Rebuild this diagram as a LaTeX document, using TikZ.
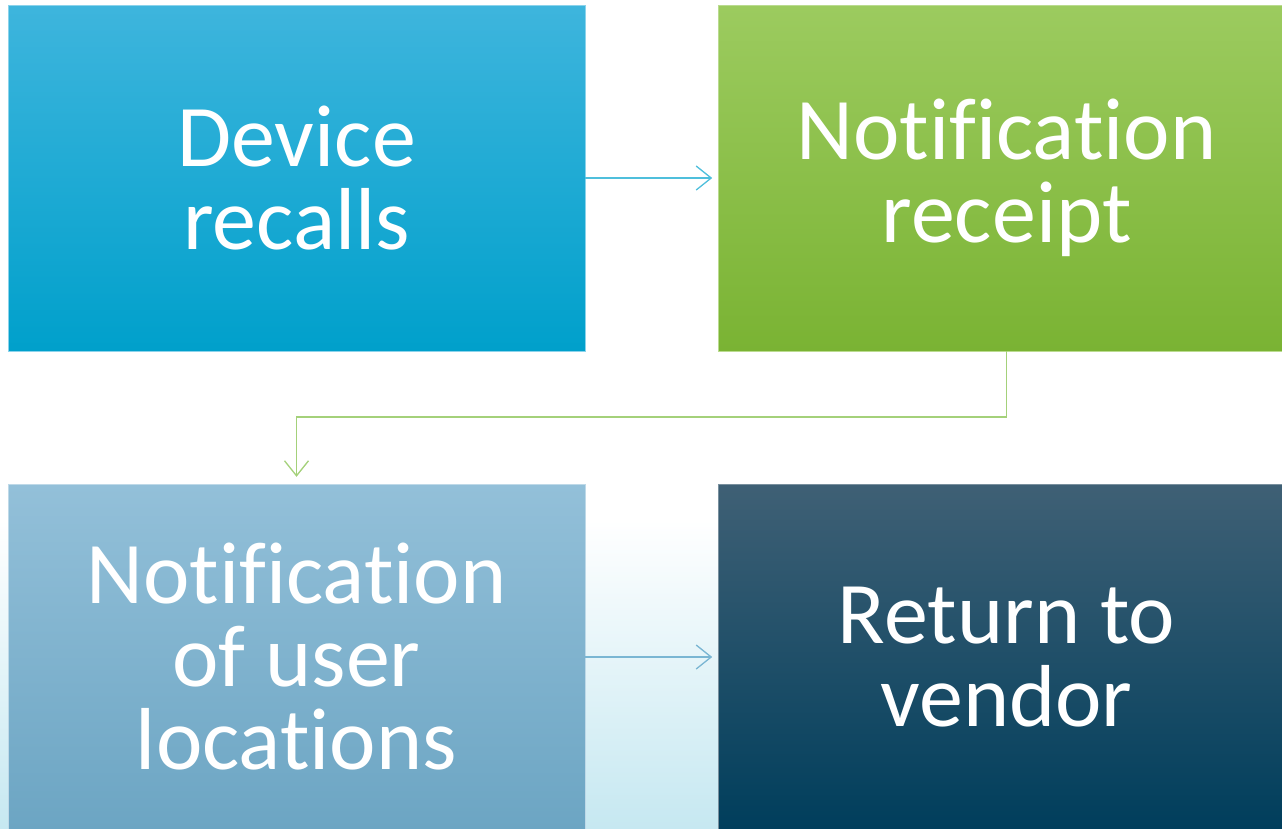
\documentclass[tikz,border=0pt]{standalone}
\usepackage{fontspec}
\setmainfont[Ligatures=CommonOff]{Carlito}
\usetikzlibrary{arrows.meta}

\definecolor{blueTop}{HTML}{3EB5DD}
\definecolor{blueBot}{HTML}{00A0CB}
\definecolor{greenTop}{HTML}{9CCB5F}
\definecolor{greenBot}{HTML}{7AB333}
\definecolor{paleTop}{HTML}{93C0D9}
\definecolor{paleBot}{HTML}{6CA5C3}
\definecolor{navyTop}{HTML}{3F6075}
\definecolor{navyBot}{HTML}{003E5C}
\definecolor{cyanBg}{HTML}{C6E8F1}
\definecolor{lineBlue}{HTML}{4FBFDC}
\definecolor{lineGreen}{HTML}{A4D17A}
\definecolor{linePale}{HTML}{7AB6D3}

\begin{document}
\begin{tikzpicture}[x=1pt, y=-1pt,
  stepbox/.style={minimum width=577pt, minimum height=346pt, inner sep=0pt,
    text=white, align=center, font=\fontsize{88}{83}\selectfont},
  link/.style={line width=1.3pt, -{Straight Barb[length=15pt, width=24pt, line width=1.3pt]}}]
\useasboundingbox (0,0) rectangle (1282,828);
\clip (0,0) rectangle (1282,828);

% pale band behind the lower row
\shade[top color=white, bottom color=cyanBg] (0,520) rectangle (1282,828);

\node[stepbox, top color=blueTop, bottom color=blueBot, draw=blueTop!60!white]
  (recall) at (296.5,178) {Device\\recalls};
\node[stepbox, top color=greenTop, bottom color=greenBot, draw=greenTop!70!white]
  (receipt) at (1006.5,178) {Notification\\receipt};
\node[stepbox, top color=paleTop, bottom color=paleBot, draw=paleTop!60!white]
  (users) at (296.5,657) {Notification\\of user\\locations};
\node[stepbox, top color=navyTop, bottom color=navyBot, draw=navyTop!70!white]
  (vendor) at (1006.5,657) {Return to\\vendor};

\coordinate (bend) at (0,417);
\draw[link, lineBlue] (recall.east) -- ++(127,0);
\draw[link, lineGreen] (receipt.south) |- (bend -| users.north) -- ([yshift=7pt]users.north);
\draw[link, linePale] (users.east) -- ++(127,0);
\end{tikzpicture}
\end{document}
